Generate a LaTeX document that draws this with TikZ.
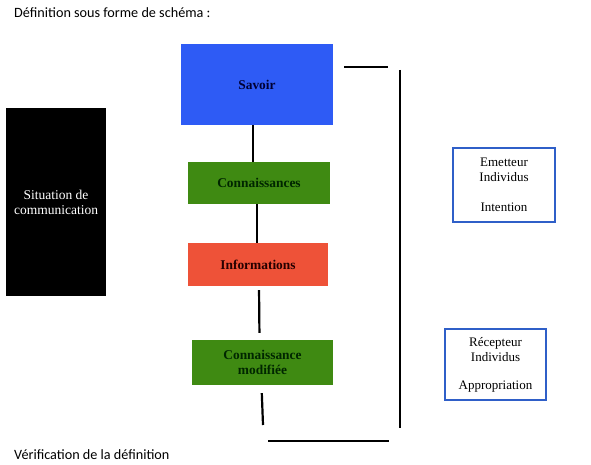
\documentclass[tikz,border=0pt]{standalone}
\usepackage{fontspec}
\setmainfont{Liberation Serif}
\newfontfamily\calibri{Carlito}
\definecolor{savoirblue}{HTML}{2E5BF5}
\definecolor{connaigreen}{HTML}{3F8A12}
\definecolor{infored}{HTML}{EE5238}
\definecolor{framblue}{HTML}{2F5FC8}
\tikzset{
  levelbox/.style={rectangle, inner sep=0pt, align=center,
    font=\fontsize{13.4}{15}\selectfont\bfseries},
  rolebox/.style={rectangle, draw=framblue, line width=1.8pt, fill=white,
    inner sep=0pt, align=center, font=\fontsize{13}{15}\selectfont},
  link/.style={line width=2.2pt, black},
  caption/.style={anchor=base west, inner sep=0pt,
    font=\calibri\fontsize{14.2}{16}\selectfont}
}
\begin{document}
\begin{tikzpicture}[x=1pt, y=-1pt]
    \useasboundingbox[fill=white] (0,0) rectangle (591,465);

    % titles
    \node[caption] (titre) at (14,18) {Définition sous forme de schéma :};
    \node[caption] (verif) at (14,459) {Vérification de la définition};

    % situation
    \node[rectangle, fill=black, text=white, minimum width=100pt,
      minimum height=188pt, align=center,
      font=\fontsize{13.5}{15}\selectfont] (situation) at (56,202)
      {Situation de\\communication};

    % levels
    \node[levelbox, fill=savoirblue, minimum width=152pt, minimum height=81pt,
      text=black!80!blue] (savoir) at (257,84.5) {Savoir};
    \node[levelbox, fill=connaigreen, minimum width=142pt, minimum height=42pt,
      text=black!85!green] (connai) at (259,183) {Connaissances};
    \node[levelbox, fill=infored, minimum width=140pt, minimum height=43pt,
      text=black!85!red] (info) at (258,264.5) {Informations};
    \node[levelbox, fill=connaigreen, minimum width=141pt, minimum height=45pt,
      text=black!85!green] (modif) at (262.5,362.5) {Connaissance\\modifiée};

    %% links
    \draw[link] ([xshift=-4pt]savoir.south) -- ([xshift=-6pt]connai.north);
    \draw[link] ([xshift=-2pt]connai.south) -- ([xshift=-1pt]info.north);
    \draw[link, shorten <=4pt, shorten >=7pt] ([xshift=1pt]info.south)
      -- ([xshift=-3pt]modif.north);
    \coordinate (fin) at (263,425);
    \draw[link, shorten <=8pt] ([xshift=-1pt]modif.south) -- (fin);

    % bracket
    \coordinate (hautg) at (344,67);
    \coordinate (hautd) at (388,67);
    \coordinate (droith) at (400,70);
    \coordinate (droitb) at (400,428);
    \coordinate (basg) at (268,441);
    \coordinate (basd) at (389,441);
    \draw[link] (hautg) -- (hautd);
    \draw[link] (droith) -- (droitb);
    \draw[link] (basg) -- (basd);

    % roles
    \node[rolebox, minimum width=102pt, minimum height=74pt] (emetteur)
      at (504,185) {Emetteur\\Individus\\[15pt]Intention};
    \node[rolebox, minimum width=101pt, minimum height=71pt] (recepteur)
      at (495.5,364.5) {Récepteur\\Individus\\[13pt]Appropriation};
\end{tikzpicture}
\end{document}
